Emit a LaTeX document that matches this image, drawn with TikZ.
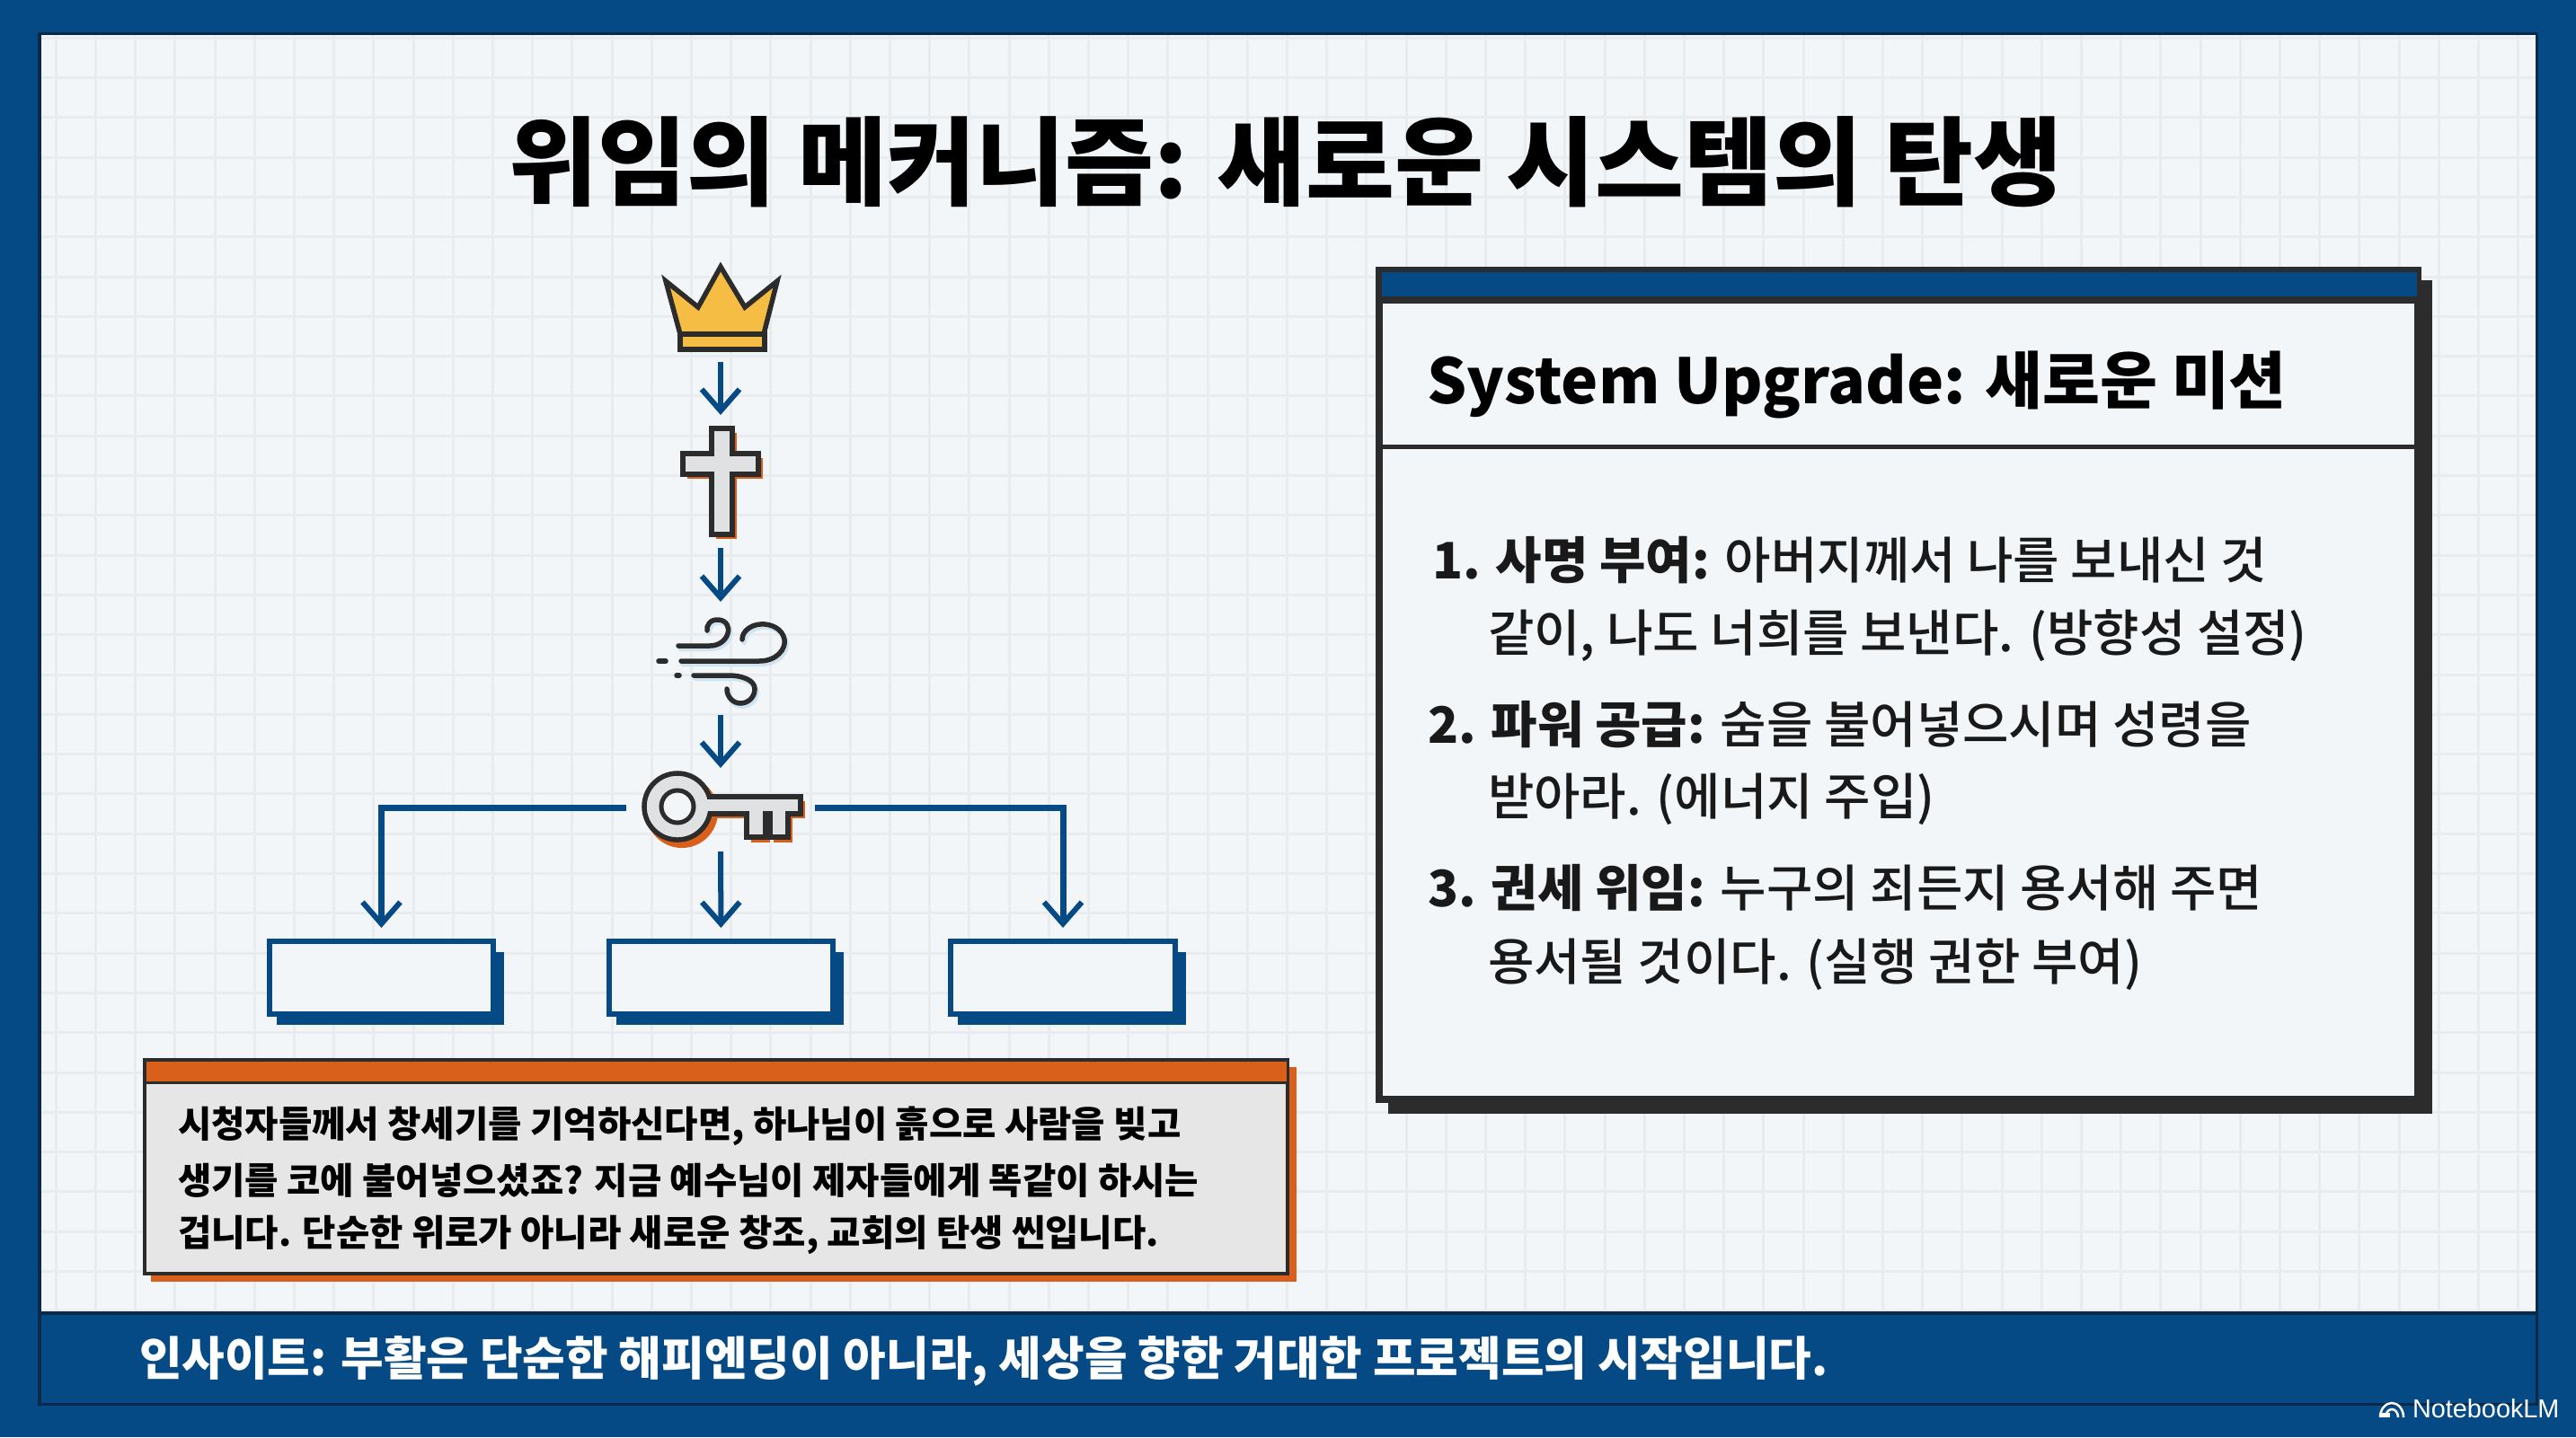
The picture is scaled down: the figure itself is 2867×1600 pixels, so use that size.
\documentclass[tikz,border=0pt]{standalone}
\usepackage{fontspec}
\setmainfont{Noto Sans CJK KR}
\newfontfamily\latinplain{Liberation Sans}
\newfontfamily\midfont{Noto Sans CJK KR Medium}
\usetikzlibrary{arrows.meta}
\definecolor{navy}{HTML}{054A84}
\definecolor{paper}{HTML}{F3F6F9}
\definecolor{gridc}{HTML}{E8ECEF}
\definecolor{ink}{HTML}{2C2C2C}
\definecolor{orng}{HTML}{D9601A}
\definecolor{gold}{HTML}{F6BD45}
\definecolor{silver}{HTML}{DFE1E3}
\definecolor{notefill}{HTML}{E5E6E5}
\definecolor{edge}{HTML}{0B2A4A}
\definecolor{halo}{HTML}{CFE3F0}
\tikzset{
  x=0.01cm,y=-0.01cm,
  flow/.style={draw=navy,line width=0.06cm,-{Straight Barb[length=0.24cm,width=0.42cm,line width=0.06cm]}},
  branch/.style={draw=navy,line width=0.07cm,-{Straight Barb[length=0.24cm,width=0.42cm,line width=0.06cm]}},
  anchorbox/.style={inner sep=0,outer sep=0,minimum width=#1},
  slot/.style={draw=navy,fill=paper,line width=0.06cm,inner sep=0,outer sep=0,minimum width=2.49cm,minimum height=0.81cm},
  iconline/.style={draw=ink,line width=0.055cm,line join=miter},
  windline/.style={draw=ink,line width=0.055cm,line cap=round},
  windhalo/.style={draw=halo,line width=0.06cm,line cap=round},
  bodytext/.style={anchor=west,inner sep=0,outer sep=0,font=\midfont\fontsize{15.9pt}{19pt}\selectfont,text=black!90},
  notetext/.style={anchor=west,inner sep=0,outer sep=0,font=\midfont\fontsize{11.55pt}{14pt}\selectfont,text=black},
}
\begin{document}
\begin{tikzpicture}
\useasboundingbox (0,0) rectangle (2867,1600);
\fill[navy] (0,0) rectangle (2867,1600);
\fill[paper] (44,38) rectangle (2823,1462);
\begin{scope}
\clip (44,38) rectangle (2823,1462);
\foreach \k in {-15,...,48}{\draw[gridc,line width=0.03cm] ({681+44.2*\k},38) -- ({681+44.2*\k},1462);}
\foreach \k in {-7,...,26}{\draw[gridc,line width=0.03cm] (44,{308+44.3*\k}) -- (2823,{308+44.3*\k});}
\end{scope}
\draw[edge,line width=0.03cm] (44,38) rectangle (2823,1563);
\draw[edge,line width=0.04cm] (44,1462) -- (2823,1462);
\node[inner sep=0,outer sep=0,font=\fontsize{30.6pt}{34pt}\selectfont\bfseries,text=black] (title) at (1431,180) {위임의 메커니즘: 새로운 시스템의 탄생};

% right panel
\fill[ink] (1545,312) rectangle (2707,1240);
\node[draw=ink,fill=paper,line width=0.08cm,inner sep=0,outer sep=0,minimum width=11.55cm,minimum height=9.225cm] (panel) at (2113,762.75) {};
\fill[navy] (1538,303) rectangle (2690,331);
\draw[ink,line width=0.08cm] (1535,334) -- (2691,334);
\draw[ink,line width=0.05cm] (1535,497) -- (2691,497);
\node[anchor=west,inner sep=0,outer sep=0,text=black,font=\fontsize{19.75pt}{24pt}\selectfont\bfseries] (head) at (1588,428) {System Upgrade: 새로운 미션};
\node[bodytext] (l1) at (1594,624) {\textbf{1. 사명 부여:} 아버지께서 나를 보내신 것};
\node[bodytext] (l2) at (1656,708) {같이, 나도 너희를 보낸다. (방향성 설정)};
\node[bodytext] (l3) at (1589,807) {\textbf{2. 파워 공급:} 숨을 불어넣으시며 성령을};
\node[bodytext] (l4) at (1656,890) {받아라. (에너지 주입)};
\node[bodytext] (l5) at (1589,989) {\textbf{3. 권세 위임:} 누구의 죄든지 용서해 주면};
\node[bodytext] (l6) at (1656,1074) {용서될 것이다. (실행 권한 부여)};

% crown
\filldraw[fill=gold,iconline] (802,297) -- (829,342) -- (865,313) -- (850,372) -- (757,372) -- (741,313) -- (777,342) -- cycle;
\filldraw[fill=gold,iconline] (757,372) rectangle (851,389);
\node[anchorbox=1cm,minimum height=1.06cm] (crown) at (802,350) {};
% cross
\fill[orng] (797,482) rectangle (820,600);
\fill[orng] (765,510) rectangle (849,533);
\filldraw[fill=silver,iconline] (792,477) -- (815,477) -- (815,505) -- (844,505) -- (844,528) -- (815,528) -- (815,595) -- (792,595) -- (792,528) -- (760,528) -- (760,505) -- (792,505) -- cycle;
\node[anchorbox=1cm,minimum height=1.48cm] (cross) at (802,536) {};
% wind
\draw[windhalo,shift={(2,3)}] (755,719) -- (790,719) .. controls (812,719) and (818,692) .. (800,690) .. controls (790,689) and (786,697) .. (787,702);
\draw[windhalo,shift={(2,3)}] (758,736) -- (845,736) .. controls (865,736) and (875,722) .. (873,712) .. controls (871,700) and (858,694) .. (846,695) .. controls (835,696) and (826,703) .. (826,712);
\draw[windhalo,shift={(2,3)}] (772,752) -- (810,752) .. controls (828,752) and (840,758) .. (840,767) .. controls (840,777) and (832,783) .. (824,783) .. controls (816,783) and (809,776) .. (809,767);
\draw[windline] (755,719) -- (790,719) .. controls (812,719) and (818,692) .. (800,690) .. controls (790,689) and (786,697) .. (787,702);
\draw[windline] (758,736) -- (845,736) .. controls (865,736) and (875,722) .. (873,712) .. controls (871,700) and (858,694) .. (846,695) .. controls (835,696) and (826,703) .. (826,712);
\draw[windline] (772,752) -- (810,752) .. controls (828,752) and (840,758) .. (840,767) .. controls (840,777) and (832,783) .. (824,783) .. controls (816,783) and (809,776) .. (809,767);
\draw[windline] (733,736) -- (741,736);
\draw[windline] (753,752) -- (756,752);
\node[anchorbox=1.6cm,minimum height=1.26cm] (wind) at (802,733) {};
% key
\fill[orng] (759,904) circle[radius=0.4cm];
\fill[orng] (794,892) rectangle (896,911);
\fill[orng] (836,911) rectangle (857,938);
\fill[orng] (861,911) rectangle (882,938);
\filldraw[fill=silver,iconline] (786,887) -- (891,887) -- (891,906) -- (877,906) -- (877,932) -- (857,932) -- (857,906) -- (852,906) -- (852,932) -- (831,932) -- (831,906) -- (786,906) -- cycle;
\filldraw[fill=silver,iconline] (754,898) circle[radius=0.37cm];
\fill[silver] (785,890) rectangle (795,903);
\draw[ink,line width=0.05cm,fill=paper] (754,898) circle[radius=0.18cm];
\node[anchorbox=2.1cm,minimum height=0.88cm] (key) at (802,899) {};

% slots
\fill[navy] (308,1060) rectangle (561,1141);
\fill[navy] (686,1060) rectangle (939,1141);
\fill[navy] (1066,1060) rectangle (1320,1141);
\node[slot] (boxa) at (424.5,1088.5) {};
\node[slot] (boxb) at (802.5,1088.5) {};
\node[slot] (boxc) at (1183,1088.5) {};

% connectors
\draw[flow] (crown.south) -- (cross.north);
\draw[flow] (cross.south) -- (wind.north);
\draw[flow] (wind.south) -- (key.north);
\draw[flow,shorten >=1.5mm,shorten <=0.5mm] (key.south) -- (boxb.north);
\draw[branch,shorten >=1.5mm] (key.west) -| (boxa.north);
\draw[branch,shorten >=1.5mm] (key.east) -| (boxc.north);

% note
\fill[orng] (168,1188) rectangle (1443,1427);
\node[draw=ink,fill=notefill,line width=0.04cm,inner sep=0,outer sep=0,minimum width=12.72cm,minimum height=2.38cm] (note) at (797,1299) {};
\filldraw[fill=orng,draw=ink,line width=0.03cm] (161,1180) rectangle (1433,1205);
\node[notetext] (n1) at (198,1254) {\bfseries 시청자들께서 창세기를 기억하신다면, 하나님이 흙으로 사람을 빚고};
\node[notetext] (n2) at (198,1314) {\bfseries 생기를 코에 불어넣으셨죠? 지금 예수님이 제자들에게 똑같이 하시는};
\node[notetext] (n3) at (198,1375) {\bfseries 겁니다. 단순한 위로가 아니라 새로운 창조, 교회의 탄생 씬입니다.};

% insight
\node[anchor=west,inner sep=0,outer sep=0,text=white,font=\bfseries\fontsize{14.72pt}{18pt}\selectfont] (ins) at (155,1515) {인사이트: 부활은 단순한 해피엔딩이 아니라, 세상을 향한 거대한 프로젝트의 시작입니다.};

% watermark
\node[anchor=west,inner sep=0,outer sep=0,text=white,font=\latinplain\fontsize{8.2pt}{10pt}\selectfont] (nlm) at (2685,1568) {NotebookLM};
\draw[white,line width=0.025cm] (2649,1578) arc[start angle=180,end angle=0,x radius=0.13cm,y radius=0.16cm];
\draw[white,line width=0.025cm] (2655,1578) arc[start angle=180,end angle=0,x radius=0.07cm,y radius=0.09cm];
\fill[white] (2648,1573) -- (2660,1573) -- (2660,1578) -- (2648,1578) -- cycle;
\end{tikzpicture}
\end{document}
